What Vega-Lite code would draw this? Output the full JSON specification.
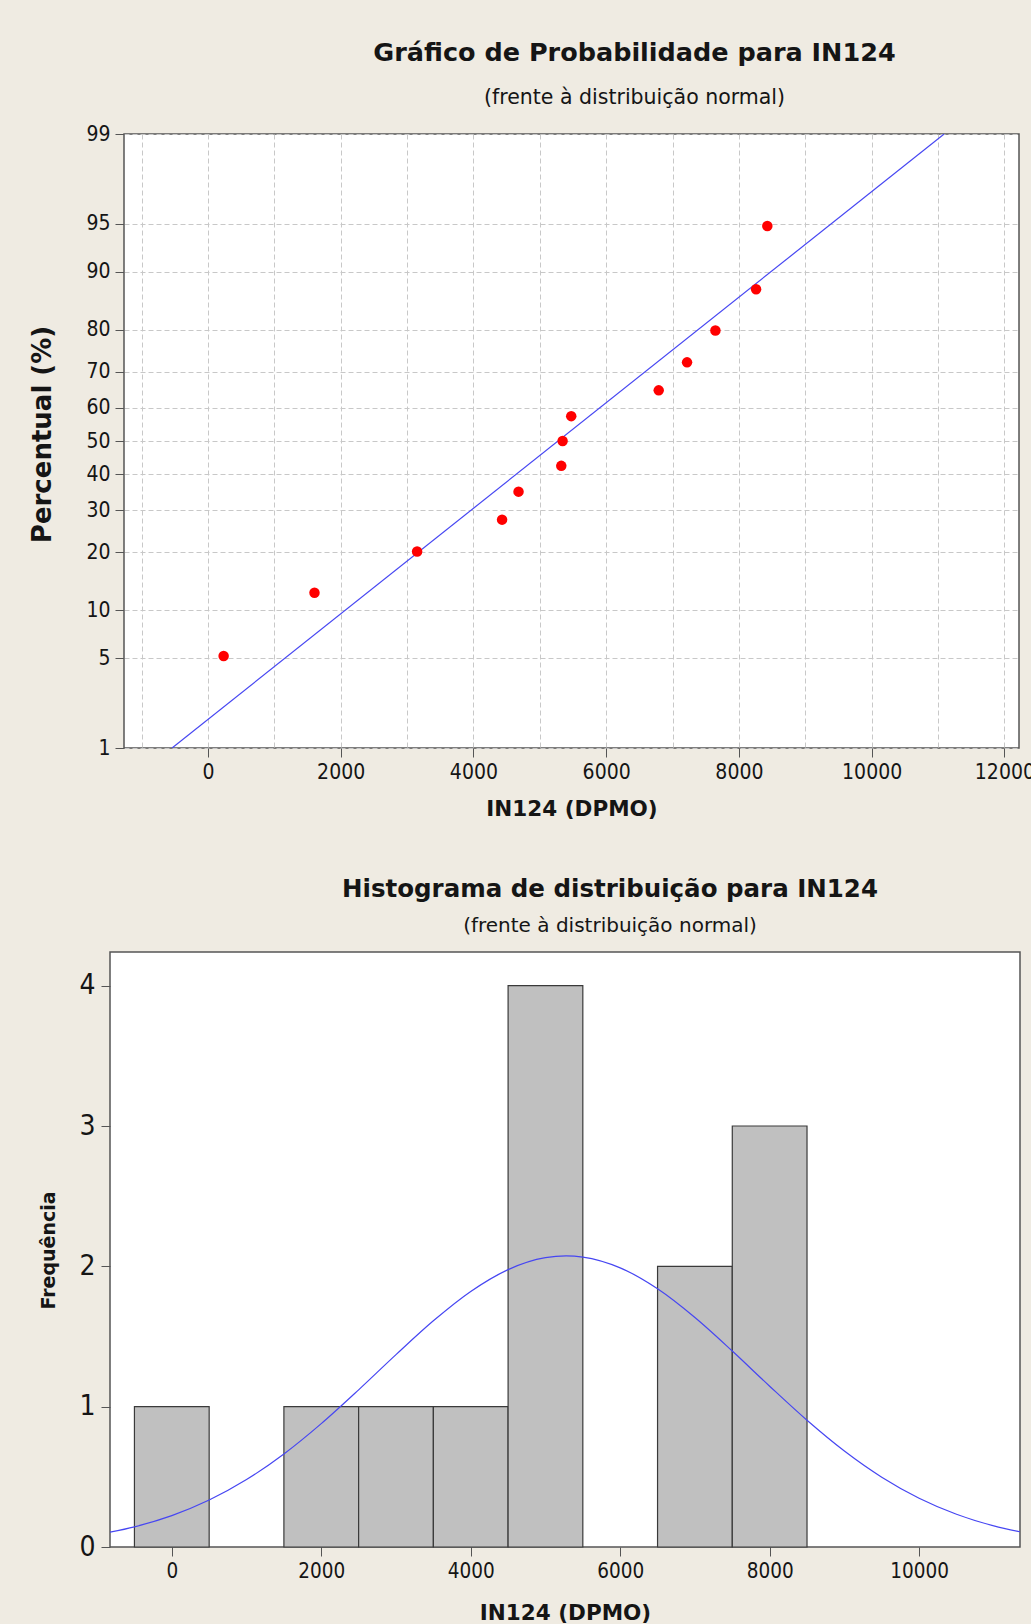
{
  "$schema": "https://vega.github.io/schema/vega-lite/v6.json",
  "background": "#EFEBE2",
  "padding": {"left": 27, "top": 40, "right": 0, "bottom": 0},
  "columns": 1,
  "spacing": 54,
  "datasets": {
    "points": [
      {"dpmo": 237, "pct": 5.22},
      {"dpmo": 1606, "pct": 12.69},
      {"dpmo": 3152, "pct": 20.15},
      {"dpmo": 4432, "pct": 27.61},
      {"dpmo": 4680, "pct": 35.07},
      {"dpmo": 5324, "pct": 42.54},
      {"dpmo": 5344, "pct": 50.0},
      {"dpmo": 5474, "pct": 57.46},
      {"dpmo": 6792, "pct": 64.93},
      {"dpmo": 7219, "pct": 72.39},
      {"dpmo": 7646, "pct": 79.85},
      {"dpmo": 8259, "pct": 87.31},
      {"dpmo": 8428, "pct": 94.78}
    ],
    "fit": [
      {"dpmo": -540, "pct": 1},
      {"dpmo": 11092, "pct": 99}
    ],
    "bins": [
      {"bin_start": -500, "bin_end": 500, "count": 1},
      {"bin_start": 1500, "bin_end": 2500, "count": 1},
      {"bin_start": 2500, "bin_end": 3500, "count": 1},
      {"bin_start": 3500, "bin_end": 4500, "count": 1},
      {"bin_start": 4500, "bin_end": 5500, "count": 4},
      {"bin_start": 6500, "bin_end": 7500, "count": 2},
      {"bin_start": 7500, "bin_end": 8500, "count": 3}
    ],
    "curve": [
      {"dpmo": -827, "freq": 0.1054},
      {"dpmo": -500, "freq": 0.1438},
      {"dpmo": 0, "freq": 0.2238},
      {"dpmo": 500, "freq": 0.3345},
      {"dpmo": 1000, "freq": 0.4804},
      {"dpmo": 1500, "freq": 0.6630},
      {"dpmo": 2000, "freq": 0.8791},
      {"dpmo": 2500, "freq": 1.1199},
      {"dpmo": 3000, "freq": 1.3707},
      {"dpmo": 3500, "freq": 1.6117},
      {"dpmo": 4000, "freq": 1.8210},
      {"dpmo": 4500, "freq": 1.9768},
      {"dpmo": 5000, "freq": 2.0618},
      {"dpmo": 5276, "freq": 2.0744},
      {"dpmo": 5500, "freq": 2.0661},
      {"dpmo": 6000, "freq": 1.9892},
      {"dpmo": 6500, "freq": 1.8401},
      {"dpmo": 7000, "freq": 1.6354},
      {"dpmo": 7500, "freq": 1.3965},
      {"dpmo": 8000, "freq": 1.1458},
      {"dpmo": 8500, "freq": 0.9032},
      {"dpmo": 9000, "freq": 0.6840},
      {"dpmo": 9500, "freq": 0.4977},
      {"dpmo": 10000, "freq": 0.3479},
      {"dpmo": 10500, "freq": 0.2337},
      {"dpmo": 11000, "freq": 0.1508},
      {"dpmo": 11350, "freq": 0.1084}
    ]
  },
  "concat": [
    {
      "concat": [
        {
          "width": 1,
          "height": 10,
          "data": {"values": []},
          "mark": "point",
          "view": {"fill": null, "stroke": null}
        },
        {
          "width": 895,
          "height": 614,
          "title": {
            "text": "Gráfico de Probabilidade para IN124",
            "subtitle": "(frente à distribuição normal)",
            "anchor": "middle",
            "dx": 63,
            "fontSize": 25.5,
            "subtitleFontSize": 20.5,
            "subtitlePadding": 21,
            "offset": 15
          },
          "layer": [
            {
              "data": {"name": "fit"},
              "mark": {"type": "line", "color": "#4646F2", "strokeWidth": 1.2, "clip": true},
              "encoding": {
                "x": {
                  "field": "dpmo", "type": "quantitative",
                  "scale": {"domain": [-1264, 12220], "nice": false, "zero": false},
                  "axis": {
                    "title": "IN124 (DPMO)",
                    "values": [-1000, 0, 1000, 2000, 3000, 4000, 5000, 6000, 7000, 8000, 9000, 10000, 11000, 12000],
                    "format": "d",
                    "labelExpr": "datum.value % 2000 === 0 ? datum.label : ''",
                    "tickOpacity": {"condition": {"test": "datum.value % 2000 !== 0", "value": 0}, "value": 1},
                    "grid": true, "gridDash": [5, 3], "gridColor": "#C8C8C8",
                    "labelFlush": false, "labelOverlap": false,
                    "tickSize": 9, "labelPadding": 4, "labelFontSize": 21,
                    "titleY": 67, "titleBaseline": "alphabetic", "titleFontSize": 21.5
                  }
                },
                "y": {
                  "field": "pct", "type": "quantitative",
                  "scale": {
                    "domain": [1, 2, 3, 5, 10, 15, 20, 25, 30, 35, 40, 45, 50, 55, 60, 65, 70, 75, 80, 85, 90, 95, 97, 98, 99],
                    "range": [614, 578.0, 555.2, 524.1, 476.1, 443.8, 418.1, 396.0, 376.2, 357.9, 340.4, 323.6, 307, 290.4, 273.6, 256.1, 237.8, 218.0, 195.9, 170.2, 137.9, 89.9, 58.8, 36.0, 0],
                    "nice": false, "zero": false
                  },
                  "axis": {
                    "title": "Percentual (%)",
                    "values": [1, 5, 10, 20, 30, 40, 50, 60, 70, 80, 90, 95, 99],
                    "grid": true, "gridDash": [5, 3], "gridColor": "#C8C8C8",
                    "tickSize": 9, "labelPadding": 5, "labelFontSize": 21,
                    "titleFontSize": 26, "titleX": -73.5, "titleY": 300,
                    "titleBaseline": "alphabetic", "titleAngle": 270
                  }
                }
              }
            },
            {
              "data": {"name": "points"},
              "mark": {"type": "circle", "color": "#FF0000", "size": 110, "opacity": 1},
              "encoding": {
                "x": {"field": "dpmo", "type": "quantitative", "title": "IN124 (DPMO)"},
                "y": {"field": "pct", "type": "quantitative", "title": "Percentual (%)"}
              }
            }
          ]
        }
      ],
      "columns": 2,
      "spacing": 0
    },
    {
      "concat": [
        {
          "width": 11,
          "height": 10,
          "data": {"values": []},
          "mark": "point",
          "view": {"fill": null, "stroke": null}
        },
        {
          "width": 910,
          "height": 595,
          "title": {
            "text": "Histograma de distribuição para IN124",
            "subtitle": "(frente à distribuição normal)",
            "anchor": "middle",
            "dx": 45,
            "fontSize": 24.5,
            "subtitleFontSize": 20,
            "subtitlePadding": 14,
            "offset": 15
          },
          "layer": [
            {
              "data": {"name": "bins"},
              "mark": {"type": "rect", "fill": "#C0C0C0", "stroke": "#3A3A3A", "strokeWidth": 1.2},
              "encoding": {
                "x": {
                  "field": "bin_start", "type": "quantitative",
                  "scale": {"domain": [-827, 11350], "nice": false, "zero": false},
                  "axis": {
                    "title": "IN124 (DPMO)",
                    "values": [0, 2000, 4000, 6000, 8000, 10000],
                    "format": "d", "grid": false,
                    "tickSize": 9, "labelPadding": 5, "labelFontSize": 20.5,
                    "labelFlush": false,
                    "titleY": 72, "titleBaseline": "alphabetic", "titleFontSize": 21.5
                  }
                },
                "x2": {"field": "bin_end"},
                "y": {
                  "field": "count", "type": "quantitative",
                  "scale": {"domain": [0, 4.24], "nice": false, "zero": false},
                  "axis": {
                    "title": "Frequência",
                    "values": [0, 1, 2, 3, 4],
                    "format": "d",
                    "grid": false,
                    "tickSize": 9, "labelPadding": 6, "labelFontSize": 28,
                    "titleFontSize": 19, "titleX": -55.5, "titleY": 298,
                    "titleBaseline": "alphabetic", "titleAngle": 270
                  }
                },
                "y2": {"datum": 0}
              }
            },
            {
              "data": {"name": "curve"},
              "mark": {"type": "line", "color": "#4646F2", "strokeWidth": 1.2, "clip": true, "interpolate": "monotone"},
              "encoding": {
                "x": {"field": "dpmo", "type": "quantitative", "title": "IN124 (DPMO)"},
                "y": {"field": "freq", "type": "quantitative", "title": "Frequência"}
              }
            }
          ]
        }
      ],
      "columns": 2,
      "spacing": 0
    }
  ],
  "config": {
    "view": {"fill": "white", "stroke": "#555555", "strokeWidth": 1.5},
    "axis": {
      "domain": false,
      "tickColor": "#555555",
      "tickWidth": 1,
      "labelFont": "DejaVu Sans Condensed, DejaVu Sans",
      "labelColor": "#151515",
      "titleFont": "DejaVu Sans",
      "titleFontWeight": "bold",
      "titleColor": "#151515"
    },
    "title": {
      "font": "DejaVu Sans",
      "fontWeight": "bold",
      "color": "#151515",
      "subtitleFont": "DejaVu Sans",
      "subtitleColor": "#151515",
      "subtitleFontWeight": "normal"
    }
  }
}
